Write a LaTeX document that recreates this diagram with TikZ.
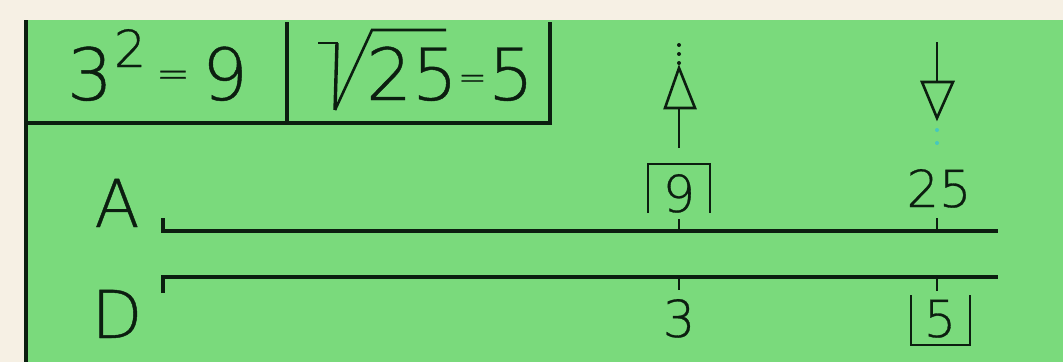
\documentclass[tikz,border=0pt]{standalone}
\usepackage{fontspec}
\setmainfont{DejaVuSans-ExtraLight.ttf}[FakeBold=0.6]
\definecolor{cream}{RGB}{246,240,228}
\definecolor{bggreen}{RGB}{122,218,124}
\definecolor{ink}{RGB}{12,30,16}
\definecolor{faint}{RGB}{70,200,190}
\begin{document}
\begin{tikzpicture}[x=1pt,y=-1pt,
  rule/.style={draw=ink,line width=3.6pt},
  thin/.style={draw=ink,line width=2.6pt},
  big/.style={inner sep=0pt,text=ink,font=\fontsize{72}{72}\selectfont},
  mid/.style={inner sep=0pt,text=ink,font=\fontsize{51}{51}\selectfont},
  lab/.style={inner sep=0pt,text=ink,font=\fontsize{66}{66}\selectfont},
  eqsign/.style={inner sep=0pt,text=ink},
  dotmark/.style={fill=ink,circle,inner sep=0pt,minimum size=4pt}]
\useasboundingbox (0,0) rectangle (1063,362);
\fill[cream] (0,0) rectangle (1063,362);
\fill[bggreen] (26,20) rectangle (1063,362);
% header frame
\coordinate (hl) at (26,20);
\coordinate (hbl) at (26,123);
\coordinate (hbr) at (550,123);
\coordinate (htr) at (550,22);
\coordinate (dvt) at (287,22);
\coordinate (dvb) at (287,123);
\draw[rule] (hl) -- (26,362);
\draw[rule] (hbl) -- (hbr) -- (htr);
\draw[rule] (dvt) -- (dvb);
% 3^2=9
\node[big,anchor=base] (t3) at (90,100) {3};
\node[mid,anchor=base] (t2) at (130,67) {2};
\node[eqsign,font=\fontsize{40}{40}\selectfont] (teq1) at (173,79) {=};
\node[big,anchor=base] (t9) at (225,100) {9};
% sqrt 25 = 5
\draw[ink,line width=2.6pt,line join=miter] (318,43) -- (338,43);
\draw[ink,line width=3.4pt] (337,43) -- (335,110);
\draw[ink,line width=2.6pt,line join=miter] (335,110) -- (372,30) -- (446,30);
\node[big,anchor=base] (t25) at (412,100) {25};
\node[eqsign,font=\fontsize{34}{34}\selectfont,anchor=west] (teq2) at (t25.east |- 0,82) {=};
\node[big,anchor=base] (t5) at (511,100) {5};
% scale labels
\node[lab,anchor=base] (A) at (117,227) {A};
\node[lab,anchor=base] (D) at (117,338) {D};
% scales
\coordinate (a0) at (163,218);
\coordinate (a1) at (163,231);
\coordinate (a2) at (998,231);
\coordinate (d0) at (163,293);
\coordinate (d1) at (163,277);
\coordinate (d2) at (998,277);
\draw[rule,line join=miter] (a0) -- (a1) -- (a2);
\draw[rule,line join=miter] (d0) -- (d1) -- (d2);
% ticks
\draw[thin] (679,219) -- (679,231);
\draw[thin] (937,218) -- (937,231);
\draw[thin] (679,277) -- (679,290);
\draw[thin] (937,277) -- (937,291);
% numbers on A
\node[mid,anchor=base] (n9) at (679,212) {9};
\draw[thin,line join=miter] (648,213) -- (648,164) -- (710,164) -- (710,213);
\node[mid,anchor=base] (n25) at (939,207) {25};
% numbers on D
\node[mid,anchor=base] (n3) at (679,337) {3};
\node[mid,anchor=base] (n5) at (940,337) {5};
\draw[thin,line join=miter] (911,295) -- (911,345) -- (970,345) -- (970,295);
% up arrow
\coordinate (us) at (679,148);
\coordinate (ub) at (679,108);
\draw[thin] (us) -- (ub);
\draw[thin,line join=miter] (665,108) -- (679,68) -- (695,108) -- cycle;
\node[dotmark] at (679,45) {};
\node[dotmark] at (679,54) {};
\node[dotmark] at (679,63) {};
% down arrow
\coordinate (ds) at (937,42);
\coordinate (db) at (937,82);
\draw[thin] (ds) -- (db);
\draw[thin,line join=miter] (922,82) -- (937,118) -- (953,82) -- cycle;
\node[dotmark,fill=faint] at (937,130) {};
\node[dotmark,fill=faint] at (937,143) {};
\end{tikzpicture}
\end{document}
